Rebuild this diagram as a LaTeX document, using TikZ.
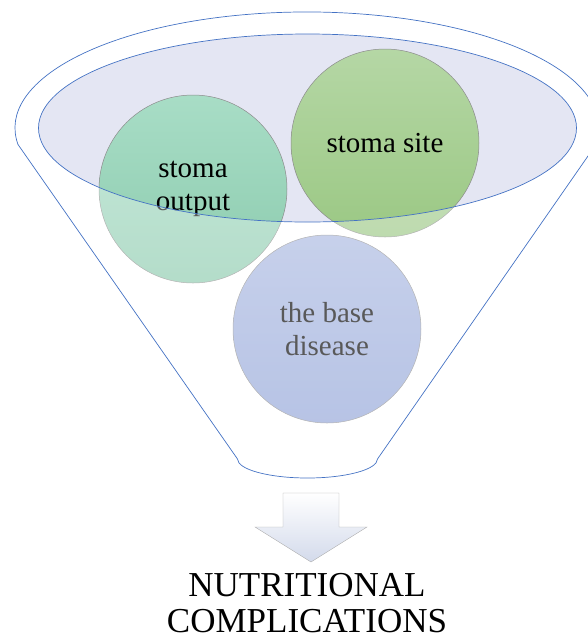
\documentclass[tikz,border=0pt]{standalone}
\usepackage{fontspec}
\setmainfont{Liberation Serif}
\definecolor{rimblue}{HTML}{4472C4}
\definecolor{mouth}{HTML}{E4E6F3}
\definecolor{rimgray}{HTML}{8C8C8C}
\definecolor{outtop}{HTML}{A8DDC6}
\definecolor{outbot}{HTML}{8CCBAE}
\definecolor{sitetop}{HTML}{B5D7A5}
\definecolor{sitebot}{HTML}{9BC884}
\definecolor{distop}{HTML}{A9B8E1}
\definecolor{disbot}{HTML}{91A4D8}
\definecolor{arrowbot}{HTML}{D3DAEB}
\tikzset{
  ball/.style={circle,draw=rimgray,line width=.5pt,minimum size=188pt,inner sep=0pt,
    align=center,font=\fontsize{29}{33}\selectfont},
  rim/.style={draw=rimblue,line width=.7pt},
}
\begin{document}
\begin{tikzpicture}[x=1pt,y=1pt,yscale=-1]
\useasboundingbox (0,0) rectangle (588,641);
% mouth of the funnel
\fill[mouth] (307.5,128) ellipse (269 and 94);
% the three balls
\node[ball,top color=outtop,bottom color=outbot] (output) at (193,189) {stoma\\output};
\node[ball,top color=sitetop,bottom color=sitebot] (site) at (385,143) {stoma site};
\node[ball,top color=distop,bottom color=disbot] (disease) at (327,329) {the base\\disease};
% funnel body, glassy
\path[rim,fill=white,fill opacity=.35,even odd rule]
  (18,144.5) arc (171.8:368.2:292 and 116) -- (377.5,459)
  arc (0:180:70 and 19) -- cycle
  (307.5,128) ellipse (269 and 94);
% arrow
\draw[draw=rimgray!70,top color=white,bottom color=arrowbot]
  (283,493) -- (339,493) -- (339,527) -- (367,527) -- (311,562) -- (255,527) -- (283,527) -- cycle;
\node[align=center,font=\fontsize{35}{36}\selectfont] (result) at (307,603) {NUTRITIONAL\\COMPLICATIONS};
\end{tikzpicture}
\end{document}
